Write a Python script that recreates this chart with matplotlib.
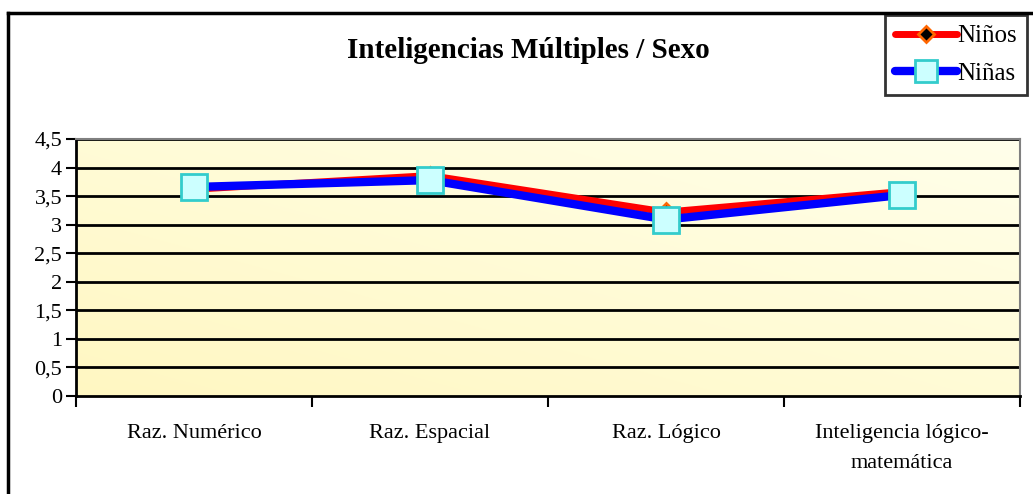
import numpy as np
import matplotlib.pyplot as plt
from matplotlib.lines import Line2D

plt.rcParams['font.family'] = ['Liberation Serif', 'DejaVu Serif']

#######################
categorias = ['Raz. Numérico', 'Raz. Espacial', 'Raz. Lógico', 'Inteligencia lógico-\nmatemática']
ninos = [3.62, 3.86, 3.22, 3.58]
ninas = [3.66, 3.78, 3.09, 3.52]
yticks = [0, 0.5, 1, 1.5, 2, 2.5, 3, 3.5, 4, 4.5]
yticklabels = ['0', '0,5', '1', '1,5', '2', '2,5', '3', '3,5', '4', '4,5']
titulo = 'Inteligencias Múltiples / Sexo'
#######################

W, H = 1033, 494
fig = plt.figure(figsize=(W/100, H/100), dpi=100)
ax = fig.add_axes([76/W, 1-396/H, (1020-76)/W, (396-139)/H])

x = np.arange(len(categorias)) + 0.5

# fondo degradado
grad = np.linspace(0, 1, 256)
gx, gy = np.meshgrid(grad, grad)
g = (gx + (1-gy)) / 2
c1 = np.array([1.0, 0.97, 0.76])
c2 = np.array([1.0, 1.0, 0.92])
img = c1[None, None, :]*(1-g[..., None]) + c2[None, None, :]*g[..., None]
ax.imshow(img, extent=[0, 4, 0, 4.5], aspect='auto', zorder=0, origin='upper')

for yv in yticks[1:]:
    ax.axhline(yv, color='black', lw=2, zorder=1)

ax.plot(x, ninos, color='#FF0000', lw=5, solid_capstyle='round', zorder=3,
        marker='D', ms=9, mfc='black', mec='#FF6600', mew=2, label='Niños')
ax.plot(x, ninas, color='#0000FF', lw=6, solid_capstyle='round', zorder=4,
        marker='s', ms=19, mfc='#CCFFFF', mec='#33CCCC', mew=2, label='Niñas')

ax.set_xlim(0, 4)
ax.set_ylim(0, 4.5)
ax.set_yticks(yticks)
ax.set_yticklabels(yticklabels, fontsize=16)
ax.set_xticks(np.arange(5))
ax.set_xticklabels([])
ax.set_xticks(x, minor=True)
ax.set_xticklabels(categorias, minor=True, fontsize=16, linespacing=1.8)
ax.tick_params(axis='x', which='minor', length=0, pad=20)
ax.tick_params(axis='x', which='major', direction='out', length=8, width=1.5)
ax.tick_params(axis='y', direction='out', length=7, width=1.5, pad=3)
ax.spines['left'].set_linewidth(2)
ax.spines['bottom'].set_linewidth(2)
ax.spines['top'].set_color('#808080')
ax.spines['right'].set_color('#808080')
ax.spines['top'].set_linewidth(1.5)
ax.spines['right'].set_linewidth(1.5)

fig.text(528/W, 1-51/H, titulo, ha='center', va='center', fontsize=21, fontweight='bold')

leg = fig.legend(loc='upper right', bbox_to_anchor=(1027/W, 1-15/H), fontsize=18,
                 frameon=True, fancybox=False, edgecolor='black', handlelength=2.5,
                 handletextpad=0.0, borderpad=0.4, labelspacing=0.6, borderaxespad=0)
leg.get_frame().set_linewidth(2)
for h in leg.legend_handles:
    h.set_markersize(h.get_markersize()*0.85)

# marco exterior
fig.add_artist(Line2D([8/W, 8/W], [0, 1-13/H], color='black', lw=2.5))
fig.add_artist(Line2D([8/W, 1], [1-13/H, 1-13/H], color='black', lw=2.5))

fig.savefig('out.png', dpi=100, facecolor='white')
